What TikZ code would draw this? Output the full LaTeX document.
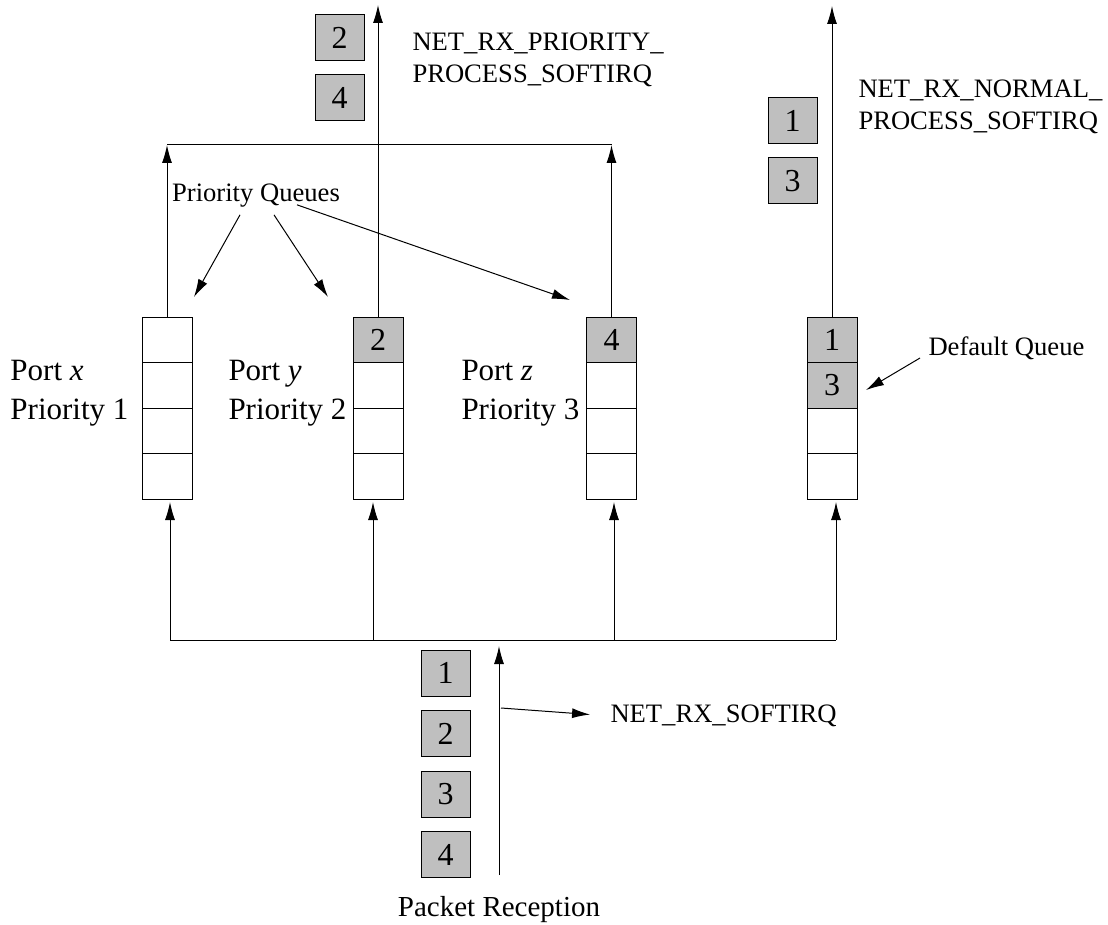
\documentclass[tikz,border=0pt]{standalone}
\usepackage{fontspec}
\setmainfont{Liberation Serif}
\usetikzlibrary{arrows.meta,positioning}

\begin{document}
\begin{tikzpicture}[x=0.5pt, y=-0.5pt, line width=0.5pt, % 1 unit = 1 pixel
    arr/.style={-{Latex[length=9pt,width=5pt]}},
    cell/.style={draw, minimum width=25pt, minimum height=22.75pt, inner sep=0pt, outer sep=0pt, font=\fontsize{16}{16}\selectfont},
    pkt/.style={cell, fill=black!25},
    outpkt/.style={pkt, minimum width=24.5pt, minimum height=23pt},
    lbl/.style={inner sep=0pt, align=left, font=\fontsize{13.3}{16}\selectfont},
    port/.style={inner sep=0pt, anchor=west, align=left, font=\fontsize{15.5}{19.5}\selectfont}]
    \useasboundingbox (0,0) rectangle (1108,925);

    % Queues
    \node[cell] (a1) at (167,339.75) {};
    \node[pkt] (b1) at (378,339.75) {2};
    \node[pkt] (c1) at (611.5,339.75) {4};
    \node[pkt] (d1) at (832,339.75) {1};
    \node[pkt, anchor=north] (d2) at (d1.south) {3};
    \foreach \q in {a,b,c}
        \node[cell, anchor=north] (\q2) at (\q1.south) {};
    \foreach \q in {a,b,c,d} {
        \node[cell, anchor=north] (\q3) at (\q2.south) {};
        \node[cell, anchor=north] (\q4) at (\q3.south) {};
    }

    % Port labels
    \node[port] (portx) at (10,393.5) {Port \textit{x}\\Priority 1};
    \node[port] (porty) at (228,393.5) {Port \textit{y}\\Priority 2};
    \node[port] (portz) at (461,393.5) {Port \textit{z}\\Priority 3};

    % Priority softirq
    \coordinate (tbl) at (167,145);
    \coordinate (tbr) at (611.5,145);
    \draw (tbl) -- (tbr);
    \draw[arr] (a1.north) -- (tbl);
    \draw[arr] (c1.north) -- (tbr);
    \coordinate (prout) at (378,5);
    \draw[arr] (b1.north) -- (prout);
    \node[outpkt] (p2) at (339.5,37.5) {2};
    \node[outpkt] (p4) at (339.5,98) {4};
    \node[lbl, anchor=west] (prio) at (412,60) {NET\_RX\_PRIORITY\_\\PROCESS\_SOFTIRQ};

    % Normal softirq
    \coordinate (nrout) at (832,6);
    \draw[arr] (d1.north) -- (nrout);
    \node[outpkt] (n1) at (792.5,120.5) {1};
    \node[outpkt] (n3) at (792.5,181) {3};
    \node[lbl, anchor=west] (norm) at (858,107) {NET\_RX\_NORMAL\_\\PROCESS\_SOFTIRQ};

    % Queue labels
    \node[font=\fontsize{13.3}{16}\selectfont] (pq) at (256,196) {Priority Queues};
    \coordinate (pqx) at (194,297);
    \coordinate (pqy) at (328,297);
    \coordinate (pqz) at (570,300);
    \draw[arr] ([xshift=-8pt]pq.south) -- (pqx);
    \draw[arr] ([xshift=9pt]pq.south) -- (pqy);
    \draw[arr] ([shift={(20.5pt,5pt)}]pq.south) -- (pqz);
    \node[lbl, anchor=west] (dq) at (928,348) {Default Queue};
    \coordinate (dqtip) at (866,390);
    \draw[arr] ([shift={(-4pt,-5pt)}]dq.west) -- (dqtip);

    % Distribution to the queues
    \coordinate (ba) at (170,640);
    \coordinate (bb) at (373,640);
    \coordinate (bc) at (614,640);
    \coordinate (bd) at (836,640);
    \draw (ba) -- (bd);
    \foreach \c/\q in {ba/a4, bb/b4, bc/c4, bd/d4}
        \draw[arr, shorten >=1.5pt] (\c) -- (\c |- \q.south);

    % Packet reception
    \coordinate (rxbot) at (499,875);
    \coordinate (rxtop) at (499,646);
    \draw[arr] (rxbot) -- (rxtop);
    \foreach \n/\y in {1/673, 2/733.5, 3/794, 4/854.5}
        \node[outpkt] (r\n) at (445.5,\y) {\n};
    \node[font=\fontsize{14.5}{16}\selectfont] (recv) at (499,910) {Packet Reception};
    \node[lbl, anchor=west] (soft) at (610,716) {NET\_RX\_SOFTIRQ};
    \coordinate (rxmid) at (501,708);
    \draw[arr, shorten >=10pt] (rxmid) -- (soft.west);
\end{tikzpicture}
\end{document}
